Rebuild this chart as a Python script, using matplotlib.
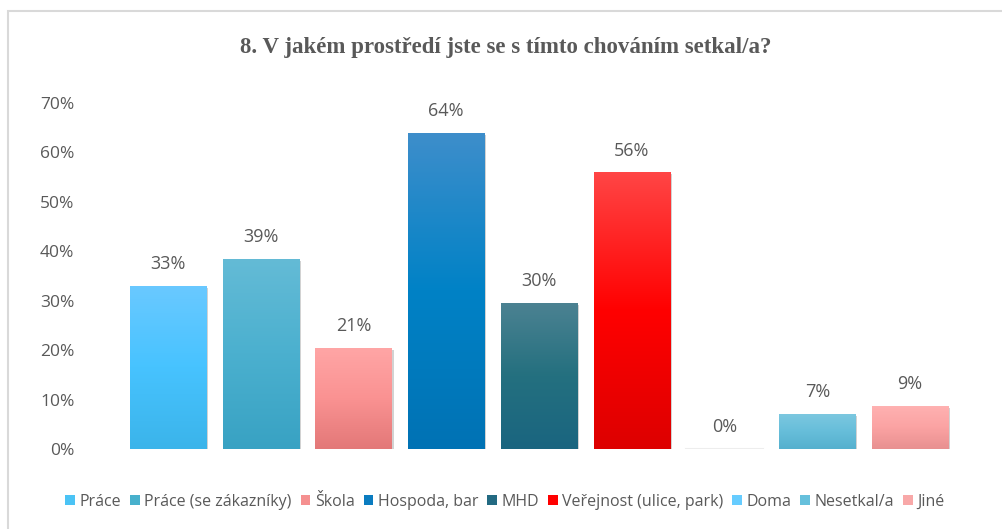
import matplotlib
matplotlib.use("Agg")
import matplotlib.pyplot as plt
import numpy as np
from matplotlib.patches import Patch, Rectangle
from matplotlib.colors import LinearSegmentedColormap
import matplotlib.patheffects as pe

categories = ["Práce", "Práce (se zákazníky)", "Škola", "Hospoda, bar", "MHD",
              "Veřejnost (ulice, park)", "Doma", "Nesetkal/a", "Jiné"]
values = [0.33, 0.385, 0.205, 0.64, 0.296, 0.56, 0.00, 0.071, 0.087]
labels = ["33%", "39%", "21%", "64%", "30%", "56%", "0%", "7%", "9%"]
yticks = [0, 0.1, 0.2, 0.3, 0.4, 0.5, 0.6, 0.7]
ytick_labels = ["0%", "10%", "20%", "30%", "40%", "50%", "60%", "70%"]
title = "8. V jakém prostředí jste se s tímto chováním setkal/a?"

# gradient colours: (top, middle, bottom)
grad_colors = [
    ("#6AC9FF", "#47C3FF", "#3BB4EA"),
    ("#64BBD6", "#4BB0CF", "#38A2C3"),
    ("#FFA6A6", "#FA9292", "#E37878"),
    ("#3E8ECB", "#0082C6", "#0072B4"),
    ("#4C8292", "#24707F", "#1A6580"),
    ("#FF4545", "#FF0000", "#DD0000"),
    ("#7FD5FF", "#66CCFF", "#55BEF0"),
    ("#7DC8E0", "#67BEDA", "#55B0CE"),
    ("#FFB2B2", "#FBA3A3", "#E89090"),
]
legend_colors = ["#4BC3F5", "#48B0CC", "#F59090", "#0A7CC0", "#236A82",
                 "#FF0000", "#66CCFF", "#66C0DC", "#F8A8A8"]

text_color = "#595959"
font = ["Open Sans", "DejaVu Sans"]

fig = plt.figure(figsize=(10.03, 5.29), dpi=100)
fig.patch.set_facecolor("white")

# outer chart border (extends beyond right/bottom edges)
fig.add_artist(Rectangle((8 / 1003, -0.05), 1.1, (529 - 11) / 529 + 0.05,
                         transform=fig.transFigure, fill=False,
                         edgecolor="#D9D9D9", linewidth=1.5))

ax = fig.add_axes([121.6 / 1003, 80 / 529, 834.8 / 1003, 346 / 529])
x = np.arange(len(categories))
bars = ax.bar(x, values, width=0.82, color="white", zorder=2)

for b, (top, mid, bot), v in zip(bars, grad_colors, values):
    if v <= 0:
        b.set_visible(False)
        continue
    b.set_path_effects([pe.SimplePatchShadow(offset=(1.5, -1.5), shadow_rgbFace="#808080", alpha=0.35),
                        pe.Normal()])
    cmap = LinearSegmentedColormap.from_list("g", [bot, mid, top])
    grad = np.linspace(0, 1, 256).reshape(-1, 1)
    x0 = b.get_x()
    im = ax.imshow(grad, aspect="auto", cmap=cmap, origin="lower",
                   extent=(x0, x0 + b.get_width(), 0, v), zorder=3,
                   interpolation="bilinear")
    im.set_clip_path(b)

ax.set_xlim(-0.5, len(categories) - 0.5)
ax.set_ylim(0, 0.70)

# zero-value bar hint
ax.plot([6 - 0.41, 6 + 0.41], [0.0008, 0.0008], color="#EDEDED", lw=1.5, zorder=3)

for xi, v, lab in zip(x, values, labels):
    ax.annotate(lab, (xi, v), xytext=(0, 9), textcoords="offset points",
                ha="center", va="bottom", fontsize=13, color=text_color,
                family=font)

ax.set_yticks(yticks)
ax.set_yticklabels(ytick_labels, fontsize=12.5, color=text_color, family=font)
ax.tick_params(axis="y", length=0, pad=34)
ax.set_xticks([])
for s in ax.spines.values():
    s.set_visible(False)

fig.text(506 / 1003, 1 - 48 / 529, title, ha="center", va="center",
         fontsize=16.5, fontweight="bold", color=text_color,
         family=["Liberation Serif", "DejaVu Serif"])

handles = [Patch(facecolor=c, edgecolor="none") for c in legend_colors]
leg = fig.legend(handles, categories, loc="center", ncol=9,
                 bbox_to_anchor=(505 / 1003, 1 - 502 / 529), frameon=False,
                 handlelength=0.6, handleheight=0.6, handletextpad=0.3,
                 columnspacing=0.55, prop={"family": font, "size": 11.5})
for t in leg.get_texts():
    t.set_color(text_color)

fig.savefig("out.png", dpi=100, facecolor="white")
